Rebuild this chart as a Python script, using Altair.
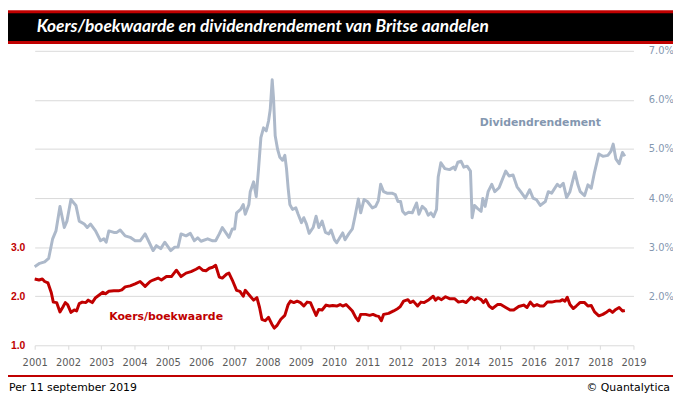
import altair as alt
import pandas as pd

# ---- data ----
div_years = [2001.00, 2001.15, 2001.30, 2001.42, 2001.54, 2001.64, 2001.76, 2001.89, 2001.97, 2002.09,
             2002.24, 2002.34, 2002.49, 2002.58, 2002.68, 2002.83, 2002.98, 2003.08, 2003.15, 2003.23,
             2003.38, 2003.47, 2003.57, 2003.72, 2003.87, 2004.02, 2004.17, 2004.32, 2004.42, 2004.56,
             2004.66, 2004.79, 2004.91, 2005.09, 2005.21, 2005.31, 2005.40, 2005.55, 2005.68, 2005.80,
             2005.90, 2006.00, 2006.20, 2006.35, 2006.44, 2006.55, 2006.64, 2006.77, 2006.84, 2006.94,
             2007.01, 2007.07, 2007.19, 2007.27, 2007.33, 2007.44, 2007.48, 2007.58, 2007.66, 2007.73,
             2007.80, 2007.88, 2007.96, 2008.03, 2008.08, 2008.14, 2008.18, 2008.23, 2008.30, 2008.37,
             2008.45, 2008.52, 2008.57, 2008.62, 2008.67, 2008.75, 2008.85, 2008.92, 2009.02, 2009.09,
             2009.17, 2009.25, 2009.37, 2009.46, 2009.54, 2009.64, 2009.74, 2009.84, 2009.91, 2010.01,
             2010.08, 2010.18, 2010.26, 2010.33, 2010.44, 2010.55, 2010.63, 2010.73, 2010.80, 2010.90,
             2011.00, 2011.15, 2011.25, 2011.33, 2011.40, 2011.49, 2011.59, 2011.74, 2011.84, 2011.92,
             2012.00, 2012.06, 2012.14, 2012.24, 2012.35, 2012.48, 2012.55, 2012.65, 2012.75, 2012.83,
             2012.91, 2012.99, 2013.08, 2013.13, 2013.21, 2013.33, 2013.47, 2013.60, 2013.64, 2013.72,
             2013.82, 2013.90, 2014.00, 2014.10, 2014.15, 2014.22, 2014.31, 2014.42, 2014.47, 2014.54,
             2014.63, 2014.74, 2014.83, 2014.96, 2015.03, 2015.16, 2015.26, 2015.38, 2015.50, 2015.62,
             2015.75, 2015.88, 2015.98, 2016.08, 2016.20, 2016.35, 2016.44, 2016.54, 2016.71, 2016.79,
             2016.89, 2016.99, 2017.09, 2017.24, 2017.33, 2017.40, 2017.53, 2017.63, 2017.73, 2017.83,
             2017.96, 2018.08, 2018.23, 2018.32, 2018.39, 2018.47, 2018.57, 2018.67, 2018.74]
div_values = [2.60, 2.67, 2.70, 2.77, 3.17, 3.33, 3.83, 3.40, 3.53, 3.97,
              3.85, 3.53, 3.47, 3.40, 3.47, 3.33, 3.13, 3.17, 3.10, 3.33,
              3.30, 3.30, 3.35, 3.23, 3.20, 3.13, 3.13, 3.27, 3.13, 2.93,
              3.03, 2.97, 3.10, 2.93, 3.00, 3.00, 3.27, 3.23, 3.28, 3.13,
              3.19, 3.12, 3.17, 3.13, 3.13, 3.27, 3.40, 3.27, 3.20, 3.37,
              3.37, 3.70, 3.77, 3.87, 3.67, 3.87, 4.13, 4.33, 4.03, 4.60,
              5.23, 5.43, 5.37, 5.57, 5.80, 6.41, 6.03, 5.27, 5.00, 4.83,
              4.77, 4.87, 4.60, 4.20, 3.87, 3.77, 3.80, 3.67, 3.50, 3.60,
              3.47, 3.28, 3.40, 3.63, 3.40, 3.53, 3.30, 3.27, 3.35, 3.15,
              3.09, 3.20, 3.29, 3.15, 3.27, 3.37, 3.63, 3.98, 3.70, 3.97,
              3.93, 3.80, 3.83, 3.95, 4.28, 4.13, 4.10, 4.10, 4.07, 3.93,
              3.93, 3.73, 3.67, 3.71, 3.70, 3.90, 3.67, 3.83, 3.77, 3.65,
              3.70, 3.62, 3.77, 4.43, 4.72, 4.60, 4.58, 4.63, 4.58, 4.73,
              4.75, 4.63, 4.65, 4.55, 3.60, 3.85, 3.79, 3.73, 3.99, 3.83,
              4.13, 4.28, 4.13, 4.21, 4.33, 4.55, 4.45, 4.47, 4.23, 4.12,
              4.00, 4.17, 4.00, 3.97, 3.85, 3.93, 4.13, 4.10, 4.28, 4.23,
              4.30, 4.01, 4.13, 4.53, 4.27, 4.13, 4.05, 4.27, 4.20, 4.53,
              4.90, 4.85, 4.87, 4.95, 5.10, 4.80, 4.70, 4.93, 4.85]

pb_years = [2001.00, 2001.13, 2001.23, 2001.30, 2001.40, 2001.50, 2001.56, 2001.66, 2001.76, 2001.84,
            2001.92, 2001.99, 2002.09, 2002.19, 2002.26, 2002.34, 2002.43, 2002.54, 2002.61, 2002.73,
            2002.83, 2002.95, 2003.05, 2003.13, 2003.23, 2003.38, 2003.52, 2003.62, 2003.72, 2003.87,
            2004.02, 2004.17, 2004.32, 2004.47, 2004.56, 2004.71, 2004.81, 2004.96, 2005.11, 2005.26,
            2005.40, 2005.55, 2005.70, 2005.85, 2005.95, 2006.05, 2006.15, 2006.25, 2006.35, 2006.44,
            2006.55, 2006.64, 2006.77, 2006.84, 2006.94, 2007.07, 2007.17, 2007.27, 2007.33, 2007.48,
            2007.58, 2007.68, 2007.76, 2007.83, 2007.93, 2008.03, 2008.13, 2008.20, 2008.28, 2008.40,
            2008.52, 2008.62, 2008.69, 2008.79, 2008.89, 2008.99, 2009.09, 2009.19, 2009.29, 2009.38,
            2009.46, 2009.54, 2009.64, 2009.76, 2009.86, 2009.96, 2010.08, 2010.18, 2010.26, 2010.36,
            2010.45, 2010.55, 2010.65, 2010.73, 2010.80, 2010.95, 2011.07, 2011.17, 2011.27, 2011.34,
            2011.42, 2011.49, 2011.64, 2011.79, 2011.92, 2011.99, 2012.09, 2012.22, 2012.29, 2012.38,
            2012.51, 2012.61, 2012.71, 2012.85, 2012.98, 2013.05, 2013.13, 2013.23, 2013.35, 2013.47,
            2013.62, 2013.74, 2013.87, 2013.97, 2014.12, 2014.22, 2014.31, 2014.42, 2014.49, 2014.56,
            2014.66, 2014.76, 2014.91, 2015.01, 2015.16, 2015.29, 2015.40, 2015.55, 2015.70, 2015.80,
            2015.90, 2016.00, 2016.10, 2016.20, 2016.30, 2016.41, 2016.54, 2016.67, 2016.79, 2016.87,
            2016.94, 2017.01, 2017.09, 2017.19, 2017.28, 2017.39, 2017.53, 2017.63, 2017.73, 2017.83,
            2017.96, 2018.08, 2018.20, 2018.28, 2018.37, 2018.47, 2018.57, 2018.67, 2018.74]
pb_values = [2.35, 2.33, 2.35, 2.30, 2.27, 2.07, 1.88, 1.87, 1.68, 1.77,
             1.87, 1.83, 1.67, 1.72, 1.70, 1.85, 1.88, 1.87, 1.92, 1.87,
             1.97, 2.03, 2.08, 2.05, 2.10, 2.11, 2.11, 2.13, 2.19, 2.21,
             2.25, 2.30, 2.20, 2.30, 2.33, 2.37, 2.33, 2.40, 2.40, 2.53,
             2.40, 2.47, 2.50, 2.55, 2.59, 2.53, 2.52, 2.57, 2.59, 2.63,
             2.39, 2.37, 2.45, 2.47, 2.33, 2.12, 2.10, 2.00, 2.12, 2.00,
             1.92, 1.97, 1.77, 1.53, 1.50, 1.57, 1.43, 1.35, 1.40, 1.53,
             1.61, 1.83, 1.90, 1.87, 1.90, 1.87, 1.80, 1.88, 1.87, 1.73,
             1.61, 1.73, 1.72, 1.82, 1.80, 1.81, 1.80, 1.83, 1.80, 1.83,
             1.77, 1.70, 1.57, 1.50, 1.63, 1.63, 1.61, 1.63, 1.60, 1.59,
             1.50, 1.63, 1.65, 1.70, 1.75, 1.79, 1.90, 1.93, 1.87, 1.90,
             1.80, 1.88, 1.87, 1.93, 2.00, 1.92, 1.97, 1.93, 1.99, 1.95,
             1.95, 1.88, 1.90, 1.87, 1.98, 1.93, 1.97, 1.93, 1.87, 1.93,
             1.80, 1.75, 1.83, 1.83, 1.77, 1.72, 1.72, 1.79, 1.82, 1.77,
             1.88, 1.80, 1.83, 1.80, 1.80, 1.88, 1.88, 1.90, 1.90, 1.93,
             1.90, 1.98, 1.83, 1.75, 1.80, 1.87, 1.87, 1.80, 1.81, 1.68,
             1.60, 1.63, 1.68, 1.72, 1.67, 1.73, 1.77, 1.70, 1.71]

year_ticks = list(range(2001, 2020))
left_ticks = [1, 2, 3]
right_ticks = [2, 3, 4, 5, 6, 7]

title_text = "Koers/boekwaarde en dividendrendement van Britse aandelen"
footer_left = "Per 11 september 2019"
footer_right = "\u00a9 Quantalytica"
label_div = "Dividendrendement"
label_pb = "Koers/boekwaarde"

assert len(div_years) == len(div_values)
assert len(pb_years) == len(pb_values)

div_df = pd.DataFrame({"jaar": div_years, "waarde": div_values})
pb_df = pd.DataFrame({"jaar": pb_years, "waarde": pb_values})
one = pd.DataFrame({"k": [0]})

RED = "#C00000"
GREY_LINE = "#ADB9CA"
GREY_TXT = "#8497B0"
GRID = "#D9D9D9"
FONT = "DejaVu Sans"

W, H = 606, 298
PL, PT, PR, PB = 27, 41, 40, 52

xscale = alt.Scale(domain=[2001, 2019], nice=False, zero=False)
yscale = alt.Scale(domain=[1, 7], nice=False, zero=False)

xaxis = alt.Axis(values=year_ticks, format="d", grid=False, title=None,
                 tickCount=19, domainColor=GRID, tickColor=GRID, tickSize=4,
                 labelColor="#595959", labelFont=FONT, labelFontSize=10,
                 labelPadding=8, labelFlush=False, labelOverlap=False)

div_line = alt.Chart(div_df).mark_line(color=GREY_LINE, strokeWidth=3, strokeJoin="round").encode(
    x=alt.X("jaar:Q", scale=xscale, axis=xaxis),
    y=alt.Y("waarde:Q", scale=yscale,
            axis=alt.Axis(orient="right", values=right_ticks, title=None,
                          labelExpr="format(datum.value, '.1f') + '%'",
                          grid=True, gridColor=GRID, domain=False, ticks=False,
                          labelColor=GREY_TXT, labelFont=FONT, labelFontSize=10,
                          labelPadding=15)),
)
div_text = alt.Chart(one).mark_text(
    text=label_div, color=GREY_TXT, font=FONT, fontWeight="bold", fontSize=11,
    align="center", baseline="middle").encode(
    x=alt.XDatum(2016.2, type="quantitative"),
    y=alt.YDatum(5.52, type="quantitative"),
)
grey_part = alt.layer(div_line, div_text)

pb_line = alt.Chart(pb_df).mark_line(color=RED, strokeWidth=3, strokeJoin="round").encode(
    x=alt.X("jaar:Q", scale=xscale, axis=xaxis),
    y=alt.Y("waarde:Q", scale=yscale,
            axis=alt.Axis(orient="left", values=left_ticks, format=".1f", title=None,
                          grid=False, domain=False, ticks=False,
                          labelColor=RED, labelFont="Liberation Sans", labelFontSize=10.5,
                          labelFontWeight="bold", labelPadding=10)),
)
pb_text = alt.Chart(one).mark_text(
    text=label_pb, color=RED, font=FONT, fontWeight="bold", fontSize=11,
    align="center", baseline="middle").encode(
    x=alt.XDatum(2004.95, type="quantitative"),
    y=alt.YDatum(1.57, type="quantitative"),
)
red_part = alt.layer(pb_line, pb_text)

# title bar and footer (decoration, outside the plot area)
bar_red = alt.Chart(one).mark_rect(color=RED).encode(
    x=alt.value(-PL), x2=alt.value(W + PR), y=alt.value(-PT), y2=alt.value(-PT + 34))
bar_black = alt.Chart(one).mark_rect(color="black").encode(
    x=alt.value(-PL), x2=alt.value(W + PR), y=alt.value(-PT + 3), y2=alt.value(-PT + 31))
title = alt.Chart(one).mark_text(
    text=title_text, color="white", font="Lato", fontStyle="italic", fontWeight="bold",
    fontSize=17.5, align="left", baseline="middle").encode(
    x=alt.value(2), y=alt.value(-PT + 17))
foot_line = alt.Chart(one).mark_rect(color=RED).encode(
    x=alt.value(-PL), x2=alt.value(W + PR), y=alt.value(328), y2=alt.value(330))
foot_l = alt.Chart(one).mark_text(
    text=footer_left, color="black", font=FONT, fontSize=11, align="left",
    baseline="middle").encode(x=alt.value(-PL + 1), y=alt.value(341))
foot_r = alt.Chart(one).mark_text(
    text=footer_right, color="black", font=FONT, fontSize=11, align="right",
    baseline="middle").encode(x=alt.value(W + 37), y=alt.value(341))

plots = alt.layer(grey_part, red_part).resolve_scale(y="independent").resolve_axis(y="independent")

chart = alt.layer(
    bar_red, bar_black, title, foot_line, foot_l, foot_r, plots
).properties(
    width=W, height=H,
    padding={"left": PL, "top": PT, "right": PR, "bottom": PB},
    autosize=alt.AutoSizeParams(type="none"),
    background="white",
).configure_view(stroke=None).configure_axisX(labelOverlap=False)

chart.save("out.html", embed_options={"renderer": "svg", "actions": False})
